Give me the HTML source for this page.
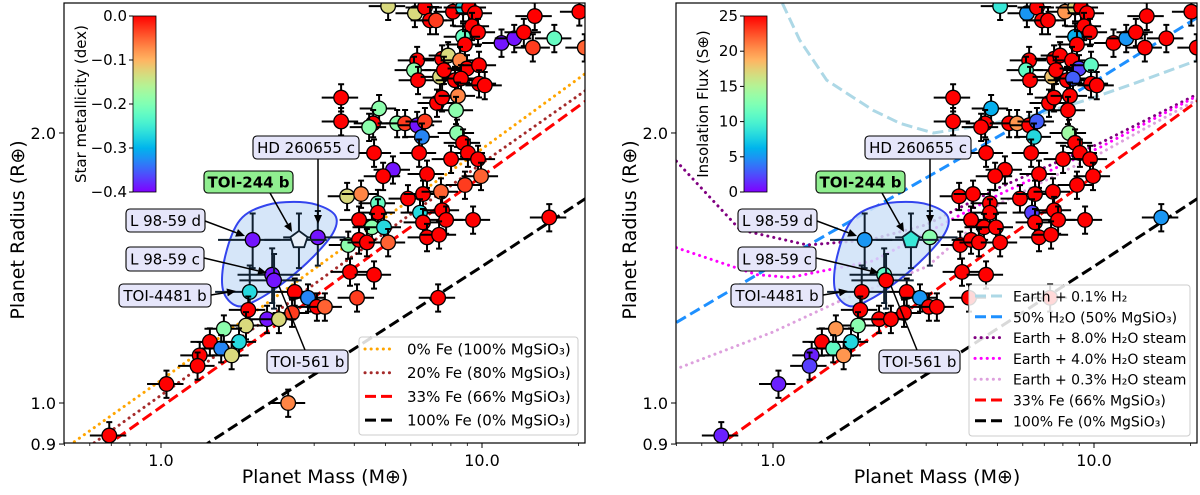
<!DOCTYPE html>
<html><head><meta charset="utf-8">
<style>
html,body{margin:0;padding:0;background:#fff;width:1200px;height:495px;overflow:hidden;}
svg{display:block;font-family:"DejaVu Sans","Liberation Sans",sans-serif;}
</style></head>
<body>
<svg id="fig" width="1200" height="495" viewBox="0 0 1200 495" xmlns="http://www.w3.org/2000/svg" overflow="hidden"></svg>
<script>
// ---------- data (planets shared by both panels) ----------
const massVals = [5.10,6.18,6.64,6.89,7.19,8.12,8.73,9.11,9.51,14.6,20.1,9.31,9.72,8.73,8.85,11.5,12.6,13.5,14.4,16.8,20.9,
6.28,6.14,6.32,7.40,7.51,7.84,7.61,8.54,8.98,9.79,8.24,8.60,9.79,10.2,3.64,3.64,4.78,4.58,4.45,5.44,5.76,6.28,6.64,6.50,
7.24,7.51,8.42,8.30,8.36,8.73,9.04,9.72,8.01,6.37,4.61,5.28,4.92,6.74,9.93,8.85,3.80,4.20,4.74,4.74,4.14,4.54,4.95,5.88,
6.55,7.45,6.41,7.51,7.73,6.55,9.38,6.74,7.35,3.83,4.14,4.38,5.10,3.88,4.61,4.08,7.30,16.2,3.08,2.61,2.87,3.06,3.24,2.56,
2.49,1.93,2.22,2.25,1.89,1.87,2.14,2.33,1.84,1.57,1.42,1.54,1.75,1.66,1.32,1.30,1.04,0.69];
const radiusVals = [2.77,2.72,2.76,2.67,2.67,2.73,2.76,2.76,2.72,2.70,2.73,2.63,2.59,2.56,2.51,2.52,2.55,2.59,2.49,2.55,2.49,
2.41,2.35,2.29,2.31,2.42,2.44,2.35,2.41,2.36,2.38,2.29,2.30,2.27,2.26,2.19,2.06,2.13,2.05,2.03,2.05,2.05,2.04,2.06,1.98,
2.16,2.19,2.20,2.12,2.00,1.95,1.90,1.87,1.87,1.90,1.90,1.82,1.79,1.80,1.79,1.75,1.70,1.71,1.67,1.63,1.60,1.57,1.57,1.69,
1.71,1.72,1.63,1.64,1.60,1.59,1.60,1.53,1.54,1.50,1.52,1.51,1.51,1.40,1.39,1.31,1.31,1.61,1.53,1.33,1.31,1.28,1.28,1.26,
1.00,1.52,1.39,1.37,1.33,1.27,1.24,1.24,1.22,1.21,1.17,1.15,1.17,1.13,1.13,1.10,1.05,0.92];
const metalVals = [-0.13,-0.13,0,0,-0.03,0,-0.27,0,0,0,0,0,0,-0.22,0,-0.39,-0.39,0,-0.03,-0.22,-0.05,
0,-0.19,0,-0.13,0,-0.13,0,-0.07,0,0,0,0,0,0,0,0,-0.19,0,-0.19,-0.19,-0.03,-0.39,-0.03,-0.33,
0,0,-0.07,-0.19,-0.19,0,0,0,0,0,0,-0.39,0,0,-0.05,-0.03,-0.13,-0.07,-0.22,0,0,-0.19,-0.27,0,
0,-0.05,-0.27,0,0,0,0,0,0,-0.19,0,0,-0.05,0,0,-0.03,0,0,-0.39,0,-0.33,0,-0.05,-0.03,
-0.07,-0.39,-0.39,-0.39,-0.27,0,-0.39,-0.13,-0.13,-0.19,0,-0.33,-0.27,-0.13,0,0,0,0];
const insolVals = [9,5,25,25,25,20,17,25,25,25,25,25,25,6,25,25,5,25,25,25,25,
25,11,25,18,25,25,25,25,2,11,25,3,25,25,25,25,6,25,25,25,20,25,3,8,
25,25,25,25,14,25,25,25,25,25,25,25,25,25,25,25,25,25,25,25,25,25,25,25,
25,25,2,25,25,25,25,25,25,25,25,25,25,25,25,25,25,5,13,25,5,25,25,25,
null,5,11,25,25,25,25,25,13,20,25,11,8,20,1,2,1,1];
// TOI-244 b
const toiMass = 2.69, toiRadius = 1.52, toiInsol = 9;
// model curves
const curveMass = [0.5,1,2,5,10,21];
const fe0R   = [0.889,1.06,1.27,1.61,1.92,2.33];
const fe20R  = [0.855,1.02,1.22,1.55,1.85,2.23];
const fe33R  = [0.83,0.99,1.18,1.50,1.79,2.17];
const fe100Mass = [1,2,5,10,21];
const fe100R = [0.834,0.98,1.21,1.42,1.69];
const h2Mass = [1.07,1.21,1.47,2.05,2.49,3.16,4.5,6.8,9.6,13.3,21];
const h2R    = [2.79,2.54,2.29,2.12,2.05,2.0,2.04,2.10,2.18,2.27,2.41];
const w50R   = [1.23,1.424,1.64,1.98,2.28,2.69];
const s8Mass = [0.5,0.79,1.28,2.0,3.0,5.1,10.5,21];
const s8R    = [1.86,1.56,1.50,1.52,1.58,1.74,1.95,2.21];
const s4Mass = [0.5,0.89,1.13,2.05,5.1,10.5,21];
const s4R    = [1.49,1.39,1.38,1.44,1.71,1.93,2.20];
const s03Mass= [0.495,1.0,1.62,3.03,5.1,10.5,21];
const s03R   = [1.09,1.20,1.30,1.42,1.67,1.90,2.18];
const xTickMajor = [1,10], xTickLabels = ["1.0","10.0"];
const xTickMinor = [0.5,0.6,0.7,0.8,0.9,2,3,4,5,6,7,8,9,20];
const yTickVals = [0.9,1.0,2.0], yTickLabels = ["0.9","1.0","2.0"];
const metalTicks = [0,-0.1,-0.2,-0.3,-0.4], metalLabels = ["0.0","\u22120.1","\u22120.2","\u22120.3","\u22120.4"];
const insolTicks = [25,20,15,10,5,0], insolLabels = ["25","20","15","10","5","0"];

const NS = "http://www.w3.org/2000/svg";
const svg = document.getElementById('fig');
function mk(tag, attrs, parent){ const e=document.createElementNS(NS,tag); for(const k in attrs) e.setAttribute(k,attrs[k]); (parent||svg).appendChild(e); return e; }
function rainbow(t){ t=Math.max(0,Math.min(1,t));
  const r=Math.min(1,Math.abs(2*t-0.5)), g=Math.sin(t*Math.PI), b=Math.cos(t*Math.PI/2);
  return `rgb(${Math.round(r*255)},${Math.round(g*255)},${Math.round(b*255)})`; }
const Y0=3, Y1=443;
function yS(r){ return 403 - 897*Math.log10(r); }

function panel(ox, pid, colorFn, curves, legendItems, legBox, cbar){
  const xS = m => ox + 161 + 321*Math.log10(m);
  const X0 = ox+64, X1 = ox+585;
  const g = mk('g',{}); 
  
  
  const cp = mk('clipPath',{id:'clip'+pid}, g); mk('rect',{x:X0,y:Y0,width:X1-X0,height:Y1-Y0},cp);
  const plot = mk('g',{'clip-path':`url(#clip${pid})`}, g);
  curves.forEach(c=>{
    const d = c.m.map((m,i)=>(i?'L':'M')+xS(m).toFixed(1)+','+yS(c.r[i]).toFixed(1)).join(' ');
    const p = mk('path',{d, fill:'none', stroke:c.color, 'stroke-width':3, 'stroke-dasharray':c.dash, 'stroke-linecap':c.dotted?'round':'butt'}, plot);
    
    
  });
  const bp=[[223,290],[225,257],[240,220],[267,205],[300,202],[323,207],[336,217],[333,233],[313,257],[287,280],[257,300],[237,306]];
  let bd='';
  for(let i=0;i<bp.length;i++){ const p0=bp[(i-1+bp.length)%bp.length],p1=bp[i],p2=bp[(i+1)%bp.length],p3=bp[(i+2)%bp.length];
    if(i===0) bd+=`M${p1[0]+ox},${p1[1]}`;
    bd+=` C${(p1[0]+(p2[0]-p0[0])/6+ox).toFixed(1)},${(p1[1]+(p2[1]-p0[1])/6).toFixed(1)} ${(p2[0]-(p3[0]-p1[0])/6+ox).toFixed(1)},${(p2[1]-(p3[1]-p1[1])/6).toFixed(1)} ${p2[0]+ox},${p2[1]}`; }
  const blob = mk('path',{d:bd+'Z', fill:'#cfe2f8', 'fill-opacity':0.85, stroke:'#3344ee','stroke-width':2}, plot);
  
  
  massVals.forEach((m,i)=>{
    const c = colorFn(i); if(c===null) return;
    const x=xS(m), y=yS(radiusVals[i]);
    const big = (i>=94 && i<=97) || i===87;
    const xe = big?0.22:0.13, ye = big?0.07:0.035;
    const x1=xS(m*(1-xe)), x2=xS(m*(1+xe)), y1=yS(radiusVals[i]*(1+ye)), y2=yS(radiusVals[i]*(1-ye));
    const eb = mk('path',{d:`M${x1},${y}H${x2}M${x},${y1}V${y2}M${x-3},${y1}H${x+3}M${x-3},${y2}H${x+3}`, stroke:big?'#102030':'#000','stroke-width':2,fill:'none'}, plot);
    
    
    const pt = mk('circle',{cx:x,cy:y,r:7.3,fill:c,stroke:'#000','stroke-width':1.3}, plot);
    
    
  });
  {
    const x=xS(toiMass), y=yS(toiRadius);
    const eb = mk('path',{d:`M${xS(toiMass*0.78)},${y}H${xS(toiMass*1.22)}M${x},${yS(toiRadius*1.07)}V${yS(toiRadius*0.93)}M${x-3},${yS(toiRadius*1.07)}H${x+3}M${x-3},${yS(toiRadius*0.93)}H${x+3}`,stroke:'#102030','stroke-width':2,fill:'none'}, plot);
    
    
    let pd=''; for(let k=0;k<5;k++){const a=-Math.PI/2+k*2*Math.PI/5; pd+=(k?'L':'M')+(x+9*Math.cos(a)).toFixed(1)+','+(y+9*Math.sin(a)).toFixed(1);}
    const pe = mk('path',{d:pd+'Z', fill: pid==='left'?'#e8f0fa':rainbow(toiInsol/25), stroke:'#102030','stroke-width':1.8}, plot);
    
    
  }
  const ann = [
    {t:'HD 260655 c', bx:253,by:136,bw:106,bh:23, ax:318,ay:159, tx:318,ty:224, name:'hd260655c-label'},
    {t:'TOI-244 b', bx:204,by:171,bw:89,bh:22, ax:270,ay:193, tx:292,ty:232, green:true, name:'toi244b-label'},
    {t:'L 98-59 d', bx:126,by:209,bw:79,bh:23, ax:205,ay:221, tx:245,ty:236, name:'l9859d-label'},
    {t:'L 98-59 c', bx:126,by:247,bw:78,bh:24, ax:204,ay:258, tx:267,ty:273, name:'l9859c-label'},
    {t:'TOI-4481 b', bx:119,by:284,bw:92,bh:23, ax:211,ay:295, tx:236,ty:291, name:'toi4481b-label'},
    {t:'TOI-561 b', bx:267,by:350,bw:81,bh:23, ax:305,ay:350, tx:279,ty:286, noHead:true, name:'toi561b-label'}
  ];
  ann.forEach(a=>{
    const ag = mk('g',{}, g);
    
    
    const dx=a.tx-a.ax, dy=a.ty-a.ay, L=Math.hypot(dx,dy), ux=dx/L, uy=dy/L;
    const ex = a.noHead? a.tx : a.tx-ux*9, ey = a.noHead? a.ty : a.ty-uy*9;
    mk('line',{x1:a.ax+ox,y1:a.ay,x2:ex+ox,y2:ey,stroke:'#000','stroke-width':1.5},ag);
    if(!a.noHead){ const px=-uy, py=ux;
      mk('path',{d:`M${a.tx+ox},${a.ty}L${ex+px*4+ox},${ey+py*4}L${ex-px*4+ox},${ey-py*4}Z`,fill:'#000'},ag); }
    mk('rect',{x:a.bx+ox,y:a.by,width:a.bw,height:a.bh,rx:4,fill:a.green?'#90ee90':'#e6e6fa',stroke:'#000','stroke-width':1.1},ag);
    const tt = mk('text',{x:a.bx+a.bw/2+ox,y:a.by+a.bh/2+5.5,'text-anchor':'middle','font-size':15,'font-weight':a.green?'bold':'normal',fill:'#000'},ag);
    tt.textContent=a.t;
  });
  const fr = mk('rect',{x:X0,y:Y0,width:X1-X0,height:Y1-Y0,fill:'none',stroke:'#000','stroke-width':1.2}, g);
  
  
  xTickMajor.forEach((m,i)=>{ const x=xS(m); mk('line',{x1:x,y1:Y1,x2:x,y2:Y1+5,stroke:'#000','stroke-width':1},g);
    const t=mk('text',{x:x,y:Y1+23,'text-anchor':'middle','font-size':16},g); t.textContent=xTickLabels[i];
      });
  xTickMinor.forEach(m=>{ const x=xS(m); if(x<X0-0.5||x>X1+0.5) return; mk('line',{x1:x,y1:Y1,x2:x,y2:Y1+3,stroke:'#000','stroke-width':0.8},g); });
  yTickVals.forEach((r,i)=>{ const y=yS(r); mk('line',{x1:X0-5,y1:y,x2:X0,y2:y,stroke:'#000','stroke-width':1},g);
    const t=mk('text',{x:X0-8,y:y+6,'text-anchor':'end','font-size':16},g); t.textContent=yTickLabels[i];
      });
  const xl = mk('text',{x:ox+325,y:483,'text-anchor':'middle','font-size':19},g); xl.textContent='Planet Mass (M\u2295)';
   
  const yl = mk('text',{x:0,y:0,'text-anchor':'middle','font-size':19,transform:`translate(${ox+24},230) rotate(-90)`},g); yl.textContent='Planet Radius (R\u2295)';
   
  const lg = mk('g',{}, g);
  
  
  mk('rect',{x:legBox.x+ox,y:legBox.y,width:legBox.w,height:legBox.h,rx:3,fill:'#fff','fill-opacity':0.85,stroke:'#ccc','stroke-width':1},lg);
  legendItems.forEach((it,i)=>{
    const y = legBox.y0 + i*legBox.dy;
    const c = it;
    const ln = mk('line',{x1:legBox.sx+ox,y1:y,x2:legBox.sx+28+ox,y2:y,stroke:c.color,'stroke-width':3,'stroke-dasharray':c.dash,'stroke-linecap':c.dotted?'round':'butt'},lg);
     
    const t = mk('text',{x:legBox.tx+ox,y:y+5.5,'font-size':legBox.fs},lg); t.textContent=c.label;
     
  });
  const cg = mk('g',{}, g);
  
  
  const gr = mk('linearGradient',{id:'grad'+pid,x1:0,y1:1,x2:0,y2:0},cg);
  for(let k=0;k<=20;k++) mk('stop',{offset:(k/20),'stop-color':rainbow(k/20)},gr);
  mk('rect',{x:cbar.x+ox,y:16,width:23,height:176,fill:`url(#grad${pid})`,stroke:'#000','stroke-width':0.8},cg);
  cbar.ticks.forEach((v,i)=>{ const y = 192 - 176*(v-cbar.min)/(cbar.max-cbar.min);
    mk('line',{x1:cbar.x-4+ox,y1:y,x2:cbar.x+ox,y2:y,stroke:'#000','stroke-width':1},cg);
    const t=mk('text',{x:cbar.x-6+ox,y:y+5,'text-anchor':'end','font-size':15},cg); t.textContent=cbar.labels[i]; });
  const cl = mk('text',{x:0,y:0,'text-anchor':'middle','font-size':15,transform:`translate(${cbar.lx+ox},104) rotate(-90)`},cg); cl.textContent=cbar.title;
   
}

const C0 ={name:'curve-0pct-fe', m:curveMass,r:fe0R,color:'#ffa500',dash:'0.1,6',dotted:true,label:'0% Fe (100% MgSiO\u2083)'};
const C20={name:'curve-20pct-fe', m:curveMass,r:fe20R,color:'#a52a2a',dash:'0.1,6',dotted:true,label:'20% Fe (80% MgSiO\u2083)'};
const C33={name:'curve-33pct-fe', m:curveMass,r:fe33R,color:'#ff0000',dash:'11,5',label:'33% Fe (66% MgSiO\u2083)'};
const C100={name:'curve-100pct-fe', m:fe100Mass,r:fe100R,color:'#000',dash:'11,5',label:'100% Fe (0% MgSiO\u2083)'};
const CH2={name:'curve-earth-h2', m:h2Mass,r:h2R,color:'#add8e6',dash:'11,5',label:'Earth + 0.1% H\u2082'};
const CW={name:'curve-50pct-h2o', m:curveMass,r:w50R,color:'#1e90ff',dash:'11,5',label:'50% H\u2082O (50% MgSiO\u2083)'};
const CS8={name:'curve-steam-8', m:s8Mass,r:s8R,color:'#800080',dash:'0.1,6',dotted:true,label:'Earth + 8.0% H\u2082O steam'};
const CS4={name:'curve-steam-4', m:s4Mass,r:s4R,color:'#ff00ff',dash:'0.1,6',dotted:true,label:'Earth + 4.0% H\u2082O steam'};
const CS03={name:'curve-steam-03', m:s03Mass,r:s03R,color:'#dda0dd',dash:'0.1,6',dotted:true,label:'Earth + 0.3% H\u2082O steam'};

panel(0,'left', i=>rainbow((metalVals[i]+0.4)/0.4), [C0,C20,C33,C100], [C0,C20,C33,C100],
  {x:359,y:337,w:219,h:98,y0:349,dy:23.7,sx:365,tx:407,fs:15},
  {x:133,min:-0.4,max:0,ticks:metalTicks,labels:metalLabels,title:'Star metallicity (dex)',lx:86});
panel(612,'right', i=>insolVals[i]===null?null:rainbow(insolVals[i]/25), [CH2,CW,CS8,CS4,CS03,C33,C100], [CH2,CW,CS8,CS4,CS03,C33,C100],
  {x:357,y:285,w:221,h:151,y0:296,dy:20.8,sx:363,tx:401,fs:14},
  {x:132,min:0,max:25,ticks:insolTicks,labels:insolLabels,title:'Insolation Flux (S\u2295)',lx:96});
</script>
</body></html>
